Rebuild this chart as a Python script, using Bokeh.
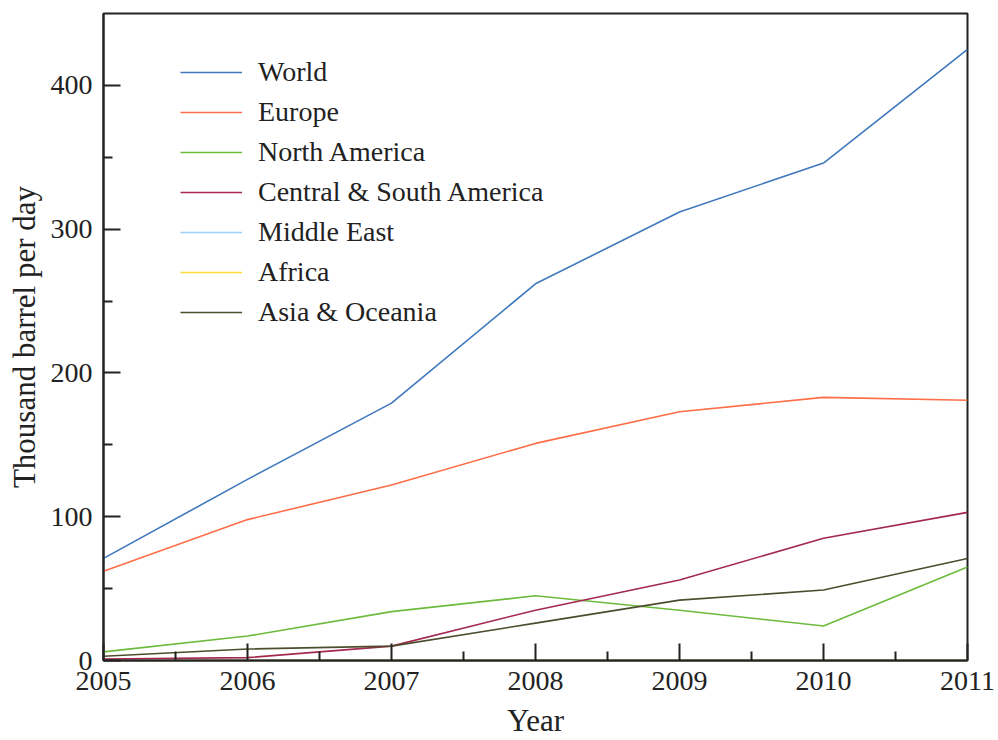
from bokeh.plotting import figure
from bokeh.models import FixedTicker, Legend, LegendItem, Range1d
from bokeh.embed import file_html
from bokeh.resources import INLINE

years = [2005, 2006, 2007, 2008, 2009, 2010, 2011]
world = [71, 126, 179, 262, 312, 346, 425]
europe = [62, 98, 122, 151, 173, 183, 181]
north_america = [6, 17, 34, 45, 35, 24, 65]
central_south_america = [1, 2, 10, 35, 56, 85, 103]
middle_east = [0, 0, 0, 0, 0, 0, 0]
africa = [0, 0, 0, 0, 0, 0, 0]
asia_oceania = [3, 8, 10, 26, 42, 49, 71]

series_names = ["World", "Europe", "North America", "Central & South America",
                "Middle East", "Africa", "Asia & Oceania"]
series_values = [world, europe, north_america, central_south_america,
                 middle_east, africa, asia_oceania]
colors = ["#3f78bd", "#ff6e48", "#6cbb3c", "#a3294f", "#9fd0f5", "#ffd740", "#4d4d2e"]

y_ticks = [0, 100, 200, 300, 400]
y_minor = [50, 150, 250, 350]
x_minor = [2005.5, 2006.5, 2007.5, 2008.5, 2009.5, 2010.5]

FONT = "Liberation Serif"

p = figure(width=998, height=740, output_backend="svg", toolbar_location=None,
           x_range=Range1d(2005, 2011), y_range=Range1d(0, 450),
           min_border_left=103, min_border_right=31, min_border_top=13,
           min_border_bottom=79)
p.background_fill_color = "white"
p.border_fill_color = "white"
p.grid.visible = False
p.outline_line_color = "#222222"
p.outline_line_width = 2

# draw hidden-at-zero series first so they stay under others
order = [4, 5, 0, 1, 2, 3, 6]
renderers = {}
for i in order:
    r = p.line(years, series_values[i], line_color=colors[i], line_width=1.6)
    renderers[i] = r

items = [LegendItem(label=series_names[i], renderers=[renderers[i]]) for i in range(7)]
legend = Legend(items=items, location=(77, 328), padding=0, margin=0,
                spacing=0, glyph_width=62, glyph_height=40, label_height=40,
                label_standoff=16, label_text_font=FONT, label_text_font_size="28px",
                label_text_color="#222222",
                border_line_color=None, background_fill_alpha=0)
p.add_layout(legend)

for ax in (p.xaxis[0], p.yaxis[0]):
    ax.axis_line_width = 2
    ax.axis_line_color = "#222222"
    ax.major_tick_line_color = "#222222"
    ax.minor_tick_line_color = "#222222"
    ax.major_tick_line_width = 2
    ax.minor_tick_line_width = 2
    ax.major_tick_in = 17
    ax.major_tick_out = 0
    ax.minor_tick_in = 9
    ax.minor_tick_out = 0
    ax.major_label_text_font = FONT
    ax.major_label_text_font_size = "28px"
    ax.major_label_text_color = "#222222"
    ax.axis_label_text_font = FONT
    ax.axis_label_text_font_size = "31px"
    ax.axis_label_text_font_style = "normal"
    ax.axis_label_text_color = "#222222"

p.xaxis[0].ticker = FixedTicker(ticks=years, minor_ticks=x_minor)
p.yaxis[0].ticker = FixedTicker(ticks=y_ticks, minor_ticks=y_minor)
p.xaxis[0].axis_label = "Year"
p.yaxis[0].axis_label = "Thousand barrel per day"
p.xaxis[0].major_label_standoff = 11
p.xaxis[0].axis_label_standoff = 10
p.xaxis[0].major_label_text_line_height = 0.9
p.xaxis[0].axis_label_text_line_height = 0.9
p.yaxis[0].major_label_standoff = 11
p.yaxis[0].axis_label_standoff = 6

open("out.html", "w").write(file_html(p, INLINE))
